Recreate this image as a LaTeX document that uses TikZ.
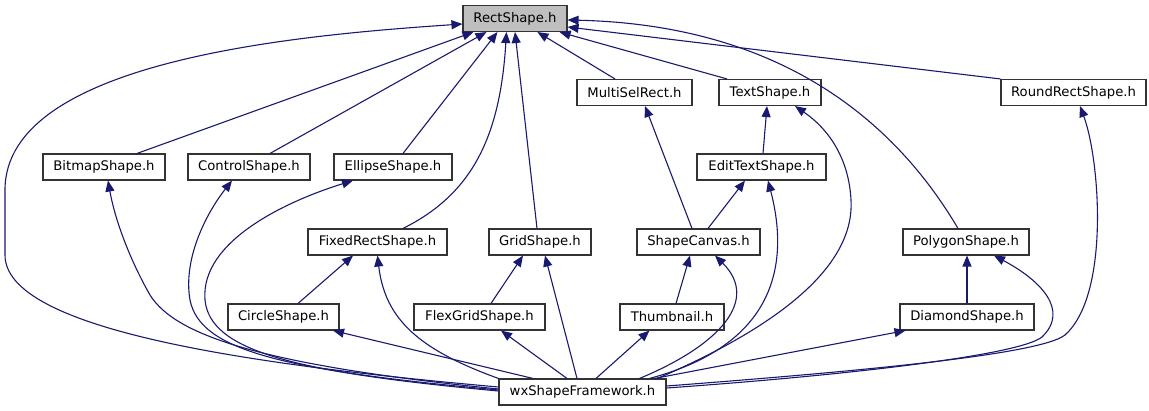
\documentclass[tikz,border=0pt]{standalone}
\usepackage{fontspec}
\setmainfont{DejaVu Sans}
\usetikzlibrary{arrows.meta}
\definecolor{edgec}{HTML}{191970}
\definecolor{boxgray}{HTML}{BFBFBF}
\begin{document}
\begin{tikzpicture}[x=1pt,y=-1pt,
  box/.style={draw=black!80, line width=1.1pt, fill=white, minimum height=26pt,
    inner sep=0pt, font=\fontsize{13.2}{15}\selectfont, text=black},
  edge/.style={draw=edgec, line width=1.1pt, -{Triangle[length=11pt,width=9pt]}}]
\useasboundingbox (0,0) rectangle (1149,411);
% row 0
\node[box, fill=boxgray, minimum width=104pt] (Rect) at (515,18.5) {RectShape.h};
% row 1
\node[box, minimum width=115pt] (Multi) at (634.5,92.5) {MultiSelRect.h};
\node[box, minimum width=102pt] (Text) at (770,92.5) {TextShape.h};
\node[box, minimum width=145pt] (Round) at (1073.5,92.5) {RoundRectShape.h};
% row 2
\node[box, minimum width=122pt] (Bitmap) at (104,167) {BitmapShape.h};
\node[box, minimum width=122pt] (Control) at (249,167) {ControlShape.h};
\node[box, minimum width=118pt] (Ellipse) at (393,167) {EllipseShape.h};
\node[box, minimum width=129pt] (Edit) at (761.5,167) {EditTextShape.h};
% row 3
\node[box, minimum width=139pt] (Fixed) at (377.5,242) {FixedRectShape.h};
\node[box, minimum width=102pt] (Grid) at (540,242) {GridShape.h};
\node[box, minimum width=123pt] (Canvas) at (698.5,242) {ShapeCanvas.h};
\node[box, minimum width=126pt] (Poly) at (966,242) {PolygonShape.h};
% row 4
\node[box, minimum width=111pt] (Circle) at (283.5,317) {CircleShape.h};
\node[box, minimum width=131pt] (Flex) at (479.5,317) {FlexGridShape.h};
\node[box, minimum width=104pt] (Thumb) at (672,317) {Thumbnail.h};
\node[box, minimum width=134pt] (Diamond) at (967,317) {DiamondShape.h};
% row 5
\node[box, minimum width=167pt] (wx) at (582.5,392) {wxShapeFramework.h};

% edges to RectShape.h
\draw[edge] ([xshift=33pt]Bitmap.north) -- ([xshift=11pt]Rect.south west);
\draw[edge] ([xshift=21pt]Control.north) -- ([xshift=24pt]Rect.south west);
\draw[edge] ([xshift=10pt]Ellipse.north) -- ([xshift=35pt]Rect.south west);
\draw[edge] ([xshift=25.5pt]Fixed.north) .. controls (470,195) and (500,140) .. ([xshift=44pt]Rect.south west);
\draw[edge] ([xshift=-3pt]Grid.north) -- (Rect.south);
\draw[edge] ([xshift=-19.5pt]Multi.north) -- ([xshift=75pt]Rect.south west);
\draw[edge] ([xshift=-43pt]Text.north) -- ([xshift=-8pt]Rect.south east);
\draw[edge] (Round.north west) -- ([yshift=-8.5pt]Rect.east);
\draw[edge] ([xshift=-8pt]Poly.north) .. controls (900,130) and (790,25) .. ([yshift=-1.5pt]Rect.east);
\draw[edge] ([yshift=5pt]wx.west) .. controls (250,365) and (5,330) .. (5,255)
  -- (5,190) .. controls (5,60) and (300,35) .. ([yshift=-5.5pt]Rect.west);

% second level
\draw[edge] ([xshift=-6.5pt]Canvas.north) -- ([xshift=10.5pt]Multi.south);
\draw[edge] ([xshift=1.5pt]Edit.north) -- ([xshift=-3pt]Text.south);
\draw[edge] ([xshift=75pt]wx.north) .. controls (770,330) and (855,270) .. (851,200)
  .. controls (849,160) and (830,130) .. ([xshift=25pt]Text.south);
\draw[edge] ([xshift=9.5pt]Canvas.north) -- ([xshift=-16.5pt]Edit.south);
\draw[edge] ([xshift=67pt]wx.north) .. controls (775,345) and (790,265) .. ([xshift=6.5pt]Edit.south);
\draw[edge] ([yshift=6pt]wx.east) .. controls (850,372) and (1040,355) .. (1065,335)
  .. controls (1110,295) and (1100,160) .. ([xshift=6.5pt]Round.south);
\draw[edge] ([yshift=3pt]wx.west) .. controls (260,365) and (175,335) .. (150,295)
  .. controls (130,260) and (115,220) .. ([xshift=4pt]Bitmap.south);
\draw[edge] ([yshift=2pt]wx.west) .. controls (280,370) and (200,350) .. (190,300)
  .. controls (183,260) and (205,215) .. ([xshift=-17pt]Control.south);
\draw[edge] ([yshift=1pt]wx.west) .. controls (290,372) and (210,350) .. (205,300)
  .. controls (200,240) and (290,200) .. ([xshift=-40pt]Ellipse.south);

% third level
\draw[edge] ([xshift=14.5pt]Circle.north) -- ([xshift=-24.5pt]Fixed.south);
\draw[edge] (wx.north west) .. controls (420,350) and (385,320) .. (Fixed.south);
\draw[edge] ([xshift=11.5pt]Flex.north) -- ([xshift=-17pt]Grid.south);
\draw[edge] ([xshift=-5.5pt]wx.north) -- ([xshift=5pt]Grid.south);
\draw[edge] ([xshift=4pt]Thumb.north) -- ([xshift=-8.5pt]Canvas.south);
\draw[edge] ([xshift=57pt]wx.north) .. controls (720,345) and (760,300) .. ([xshift=16.5pt]Canvas.south);
\draw[edge] (Diamond.north) -- ([xshift=1pt]Poly.south);
\draw[edge] ([yshift=4pt]wx.east) .. controls (850,375) and (1020,355) .. (1042,337)
  .. controls (1070,310) and (1040,280) .. ([xshift=28pt]Poly.south);

% fourth level
\draw[edge] ([xshift=-49.5pt]wx.north) -- ([xshift=49.5pt]Circle.south);
\draw[edge] ([xshift=-15.5pt]wx.north) -- ([xshift=21.5pt]Flex.south);
\draw[edge] ([xshift=13.5pt]wx.north) -- ([xshift=-22.5pt]Thumb.south);
\draw[edge] ([xshift=72pt]wx.north) -- ([xshift=6pt]Diamond.south west);
\end{tikzpicture}
\end{document}
